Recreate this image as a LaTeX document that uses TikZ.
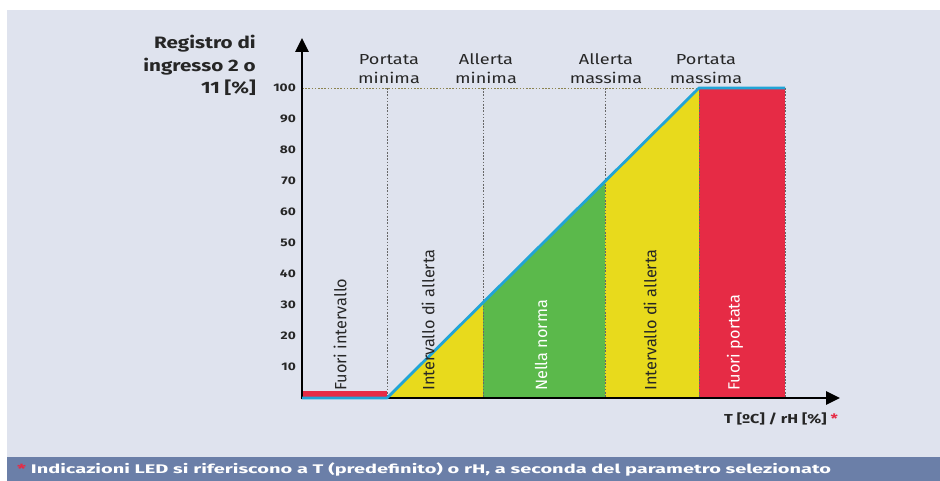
\documentclass[tikz,border=0pt]{standalone}
\usepackage{fontspec}
\setmainfont[FakeStretch=1.25]{Fira Sans}
\newfontfamily\footfont[FakeStretch=1.6]{Fira Sans}
\newfontfamily\zonefont{Fira Sans}
\usepackage{tikz}
\usetikzlibrary{arrows.meta, positioning, calc}
\definecolor{panelbg}{HTML}{DFE3EE}
\definecolor{footbg}{HTML}{6B7FA8}
\definecolor{ledred}{HTML}{E62B45}
\definecolor{ledyellow}{HTML}{E8DA1C}
\definecolor{ledgreen}{HTML}{5BB94B}
\definecolor{curveblue}{HTML}{22A4D6}
\definecolor{textdark}{HTML}{262626}
\definecolor{guideolive}{HTML}{8C8450}

\begin{document}
\begin{tikzpicture}[
    x=1pt, y=-1pt,
    axis/.style={line width=2.6pt, -{Triangle[length=14pt, width=13pt]}},
    tick/.style={font=\fontsize{11}{13}\selectfont\bfseries, color=textdark, anchor=east, inner sep=0pt},
    limit/.style={font=\fontsize{14.5}{19}\selectfont, color=textdark, align=center, anchor=south, inner sep=0pt},
    zone/.style={font=\zonefont\fontsize{16.3}{18}\selectfont, rotate=90, anchor=west, inner sep=0pt},
    guide/.style={line width=0.8pt, dash pattern=on 1.6pt off 1.6pt, color=textdark!70},
    curve/.style={line width=2.8pt, color=curveblue, line join=round}
]
\useasboundingbox (0,0) rectangle (940,481);

% Background
\fill[panelbg] (7,10) rectangle (940,457);
\fill[footbg] (7,457) rectangle (940,481);

% Points of the curve
\coordinate (o) at (302,398);
\coordinate (pmin) at (387,398);
\coordinate (amin) at (483,302);
\coordinate (amax) at (605,181);
\coordinate (pmax) at (699,88);
\coordinate (rend) at (785,88);

% Zones
\fill[ledred] (302,391) rectangle (pmin);
\fill[ledyellow] (pmin) -- (amin) -- (amin |- o) -- cycle;
\fill[ledgreen] (amin |- o) -- (amin) -- (amax) -- (amax |- o) -- cycle;
\fill[ledyellow] (amax |- o) -- (amax) -- (pmax) -- (pmax |- o) -- cycle;
\fill[ledred] (pmax) rectangle (785,398);

% Guides
\draw[guide, color=guideolive] (302,88) -- (pmax);
\draw[guide] (387,88) -- (pmin);
\draw[guide] (483,88) -- (amin |- o);
\draw[guide] (605,88) -- (amax |- o);
\draw[guide] (pmax) -- (pmax |- o);
\draw[guide] (rend) -- (785,398);

% Axes
\coordinate (ytip) at (302,38);
\coordinate (xtip) at (840,398);
\draw[axis] ($(o)+(0,1.3)$) -- (ytip);
\draw[axis] ($(o)+(-1.3,0)$) -- (xtip);

% Curve
\draw[curve] (o) -- (pmin) -- (pmax) -- (rend);

% Ticks
\foreach \v in {1,...,10} {
  \node[tick] (t\v) at (296,{398-31*\v}) {\the\numexpr\v*10\relax};
}

% Limits
\node[limit] (lpmin) at (389,84) {Portata\\minima};
\node[limit] (lamin) at (486,84) {Allerta\\minima};
\node[limit] (lamax) at (606,84) {Allerta\\massima};
\node[limit] (lpmax) at (706,84) {Portata\\massima};

% Zone labels
\node[zone, color=textdark] (zfi) at (340,391) {Fuori intervallo};
\node[zone, color=textdark] (zia) at (428,391) {Intervallo di allerta};
\node[zone, color=white] (znn) at (541,391) {Nella norma};
\node[zone, color=textdark] (zib) at (650,391) {Intervallo di allerta};
\node[zone, color=white] (zfp) at (735,391) {Fuori portata};

% Axis labels
\node[font=\fontsize{16.5}{22.5}\selectfont\bfseries, color=textdark, align=right, anchor=north east, inner sep=0pt] (ylab) at (256,35) {Registro di\\ingresso 2 o\\11 [\%]};
\node[font=\fontsize{13}{15}\selectfont\bfseries, color=textdark, anchor=east, inner sep=0pt] (xlab) at (838,419) {T [ºC] / rH [\%] \textcolor{ledred}{*}};

% Footer
\node[font=\footfont\fontsize{12.5}{14}\selectfont\bfseries, color=white, anchor=west, inner sep=0pt] (note) at (17,470) {\textcolor{ledred}{*} Indicazioni LED si riferiscono a T (predefinito) o rH, a seconda del parametro selezionato};

\end{tikzpicture}
\end{document}
